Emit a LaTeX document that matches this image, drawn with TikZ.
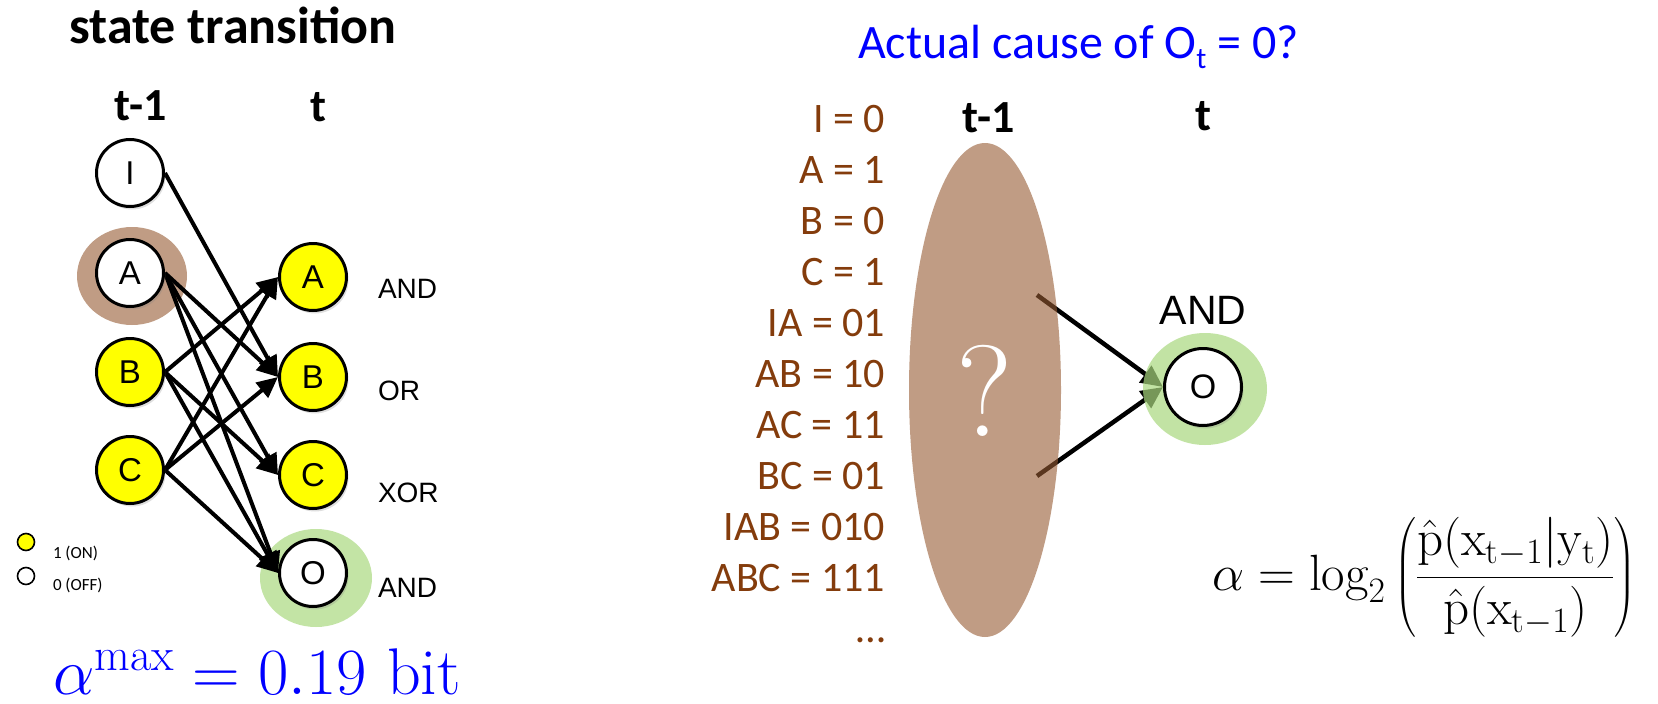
\RequirePackage{fix-cm}
\documentclass[tikz,border=0pt]{standalone}
\usepackage{amsmath}
\usepackage{fontspec}
\newfontfamily\carlito{Carlito}
\newfontfamily\arialf{Liberation Sans}
\usetikzlibrary{arrows.meta,shadows}
\definecolor{nodeyellow}{RGB}{255,255,0}
\definecolor{labelbrown}{RGB}{132,60,12}
\definecolor{halobrown}{RGB}{192,156,132}
\definecolor{halogreen}{RGB}{195,228,165}
\definecolor{deepbrown}{RGB}{150,90,50}
\definecolor{deepgreen}{RGB}{169,216,126}
\definecolor{titleblue}{RGB}{0,0,255}
\pgfdeclarelayer{bglayer}
\pgfdeclarelayer{backlayer}
\pgfdeclarelayer{arrowlayer}
\pgfdeclarelayer{halolayer}
\pgfsetlayers{bglayer,backlayer,arrowlayer,halolayer,main}
\tikzset{
  statenode/.style={circle, draw=black, line width=3pt, minimum size=67pt, inner sep=0pt,
    font=\arialf\fontsize{33}{33}\selectfont,
    drop shadow={shadow xshift=2pt, shadow yshift=-3pt, opacity=0.25}},
  onnode/.style={statenode, fill=nodeyellow},
  offnode/.style={statenode, fill=white},
  wire/.style={line width=4pt, -{Triangle[length=21pt,width=19pt]}},
  bigwire/.style={line width=4.5pt, -{Triangle[length=22pt,width=20pt]}},
  txt/.style={inner sep=0pt, outer sep=0pt},
  gatelabel/.style={txt, anchor=base west, font=\arialf\fontsize{28}{28}\selectfont},
  boldlabel/.style={txt, anchor=base, font=\carlito\bfseries\fontsize{46}{46}\selectfont},
  statelabel/.style={txt, anchor=base east, text=labelbrown, font=\carlito\fontsize{42}{42}\selectfont},
  legenddot/.style={circle, draw=black, line width=1.6pt, minimum size=17pt, inner sep=0pt},
  legendtext/.style={txt, anchor=base west, font=\carlito\fontsize{17}{17}\selectfont}
}
\begin{document}
\begin{tikzpicture}[x=1pt,y=-1pt]
\useasboundingbox (0,0) rectangle (1658,704);
\begin{pgfonlayer}{bglayer}
\fill[white] (0,0) rectangle (1658,704);
\end{pgfonlayer}

% ---------------- left panel ----------------
\node[txt, anchor=base, font=\carlito\bfseries\fontsize{52}{52}\selectfont] (title) at (233,43) {state transition};
\node[boldlabel] (lprev) at (141,120) {t-1};
\node[boldlabel] (lnow) at (318,121) {t};

\node[offnode] (I) at (130,173) {I};
\node[offnode] (A) at (130,273) {A};
\node[onnode] (B) at (130,372) {B};
\node[onnode] (C) at (130,470) {C};
\node[onnode] (Ap) at (313,277) {A};
\node[onnode] (Bp) at (313,377) {B};
\node[onnode] (Cp) at (313,475) {C};
\node[offnode] (Op) at (313,573) {O};

\node[gatelabel] (gA) at (378,298) {AND};
\node[gatelabel] (gB) at (378,400) {OR};
\node[gatelabel] (gC) at (378,502) {XOR};
\node[gatelabel] (gO) at (378,597) {AND};

\begin{pgfonlayer}{backlayer}
\fill[halobrown] (132,276) ellipse [x radius=55pt, y radius=49pt];
\fill[halogreen] (316,578) ellipse [x radius=56pt, y radius=49pt];
\end{pgfonlayer}

\begin{pgfonlayer}{arrowlayer}
\draw[wire] (I.east) -- (Bp.west);
\draw[wire] (A.east) -- (Bp.west);
\draw[wire] (A.east) -- (Cp.west);
\draw[wire] (A.east) -- (Op.west);
\draw[wire] (B.east) -- (Ap.west);
\draw[wire] (B.east) -- (Cp.west);
\draw[wire] (B.east) -- (Op.west);
\draw[wire] (C.east) -- (Ap.west);
\draw[wire] (C.east) -- (Bp.west);
\draw[wire] (C.east) -- (Op.west);
\end{pgfonlayer}

\node[legenddot, fill=nodeyellow] (ondot) at (26,542) {};
\node[legenddot, fill=white] (offdot) at (26,576) {};
\node[legendtext] (ontext) at (53,558) {1 (ON)};
\node[legendtext] (offtext) at (53,590) {0 (OFF)};

\node[txt, anchor=base west, text=titleblue, font=\fontsize{66}{66}\selectfont] (amax) at (53,694)
  {$\alpha^{\mathrm{max}} = 0.19\ \mathrm{bit}$};

% ---------------- right panel ----------------
\node[txt, anchor=base west, text=titleblue, font=\carlito\fontsize{48}{48}\selectfont] (question) at (858,58)
  {Actual cause of O\raisebox{-0.22em}{\fontsize{30}{30}\selectfont t} = 0?};

\foreach \lab [count=\i from 0] in {{I = 0},{A = 1},{B = 0},{C = 1},{IA = 01},{AB = 10},{AC = 11},{BC = 01},{IAB = 010},{ABC = 111},{\char"2026}}
  \node[statelabel] (lab\i) at (885,{132+51*\i}) {\lab};

\node[boldlabel] (rprev) at (989,132) {t-1};
\node[boldlabel] (rnow) at (1203,130) {t};

\node[statenode, fill=white, minimum size=77pt, font=\arialf\fontsize{34}{34}\selectfont] (Or) at (1203,387) {O};
\node[txt, anchor=base, font=\arialf\fontsize{41}{41}\selectfont] (gOr) at (1203,324) {AND};

\coordinate (src1) at (1037,295);
\coordinate (src2) at (1037,476);
\begin{pgfonlayer}{arrowlayer}
\draw[bigwire] (src1) -- (Or.west);
\draw[bigwire] (src2) -- (Or.west);
\end{pgfonlayer}

\begin{pgfonlayer}{halolayer}
\fill[deepbrown, fill opacity=0.6] (985,390) ellipse [x radius=76pt, y radius=247pt];
\fill[deepgreen, fill opacity=0.7] (1205,389) ellipse [x radius=62pt, y radius=56pt];
\end{pgfonlayer}

\node[txt, text=white, font=\fontsize{130}{130}\selectfont] (qmark) at (985,391) {?};

\node[txt, anchor=base west, font=\fontsize{51}{51}\selectfont] (formula) at (1212,590)
  {$\displaystyle \alpha = \log_2\left(\frac{\hat{\mathrm{p}}(\mathrm{x}_{\mathrm{t}-1}|\mathrm{y}_{\mathrm{t}})}{\hat{\mathrm{p}}(\mathrm{x}_{\mathrm{t}-1})}\right)$};
\end{tikzpicture}
\end{document}
